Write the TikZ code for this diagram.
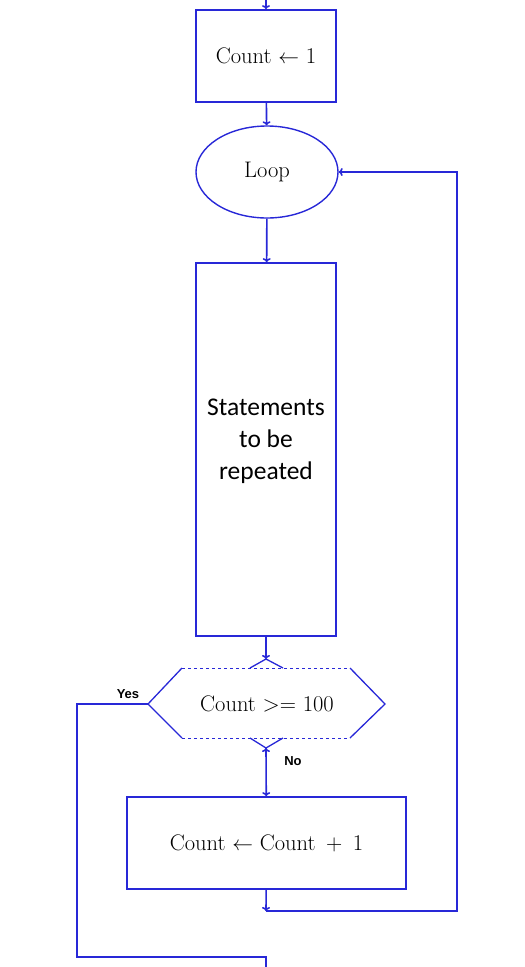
\documentclass[tikz,border=0pt]{standalone}
\usepackage{fontspec}
\newfontfamily\bodyfont{Carlito}
\newfontfamily\tagfont{Liberation Sans}
\usetikzlibrary{arrows.meta, positioning, shapes.geometric}
\definecolor{flowblue}{RGB}{40,40,215}

\begin{document}
\begin{tikzpicture}[
    x = 1pt, y = -1pt,
    punkt/.style = {rectangle, draw=flowblue, line width=1.7pt, inner sep=2pt},
    pil/.style = {flowblue, line width=1.6pt, -{To[length=4pt,width=8pt]}},
    lijn/.style = {flowblue, line width=1.6pt},
    tag/.style = {font=\tagfont\bfseries\fontsize{13}{15}\selectfont, inner sep=1pt},
    font=\fontsize{22.5}{26}\selectfont
    ]
  \useasboundingbox (0,0) rectangle (525,967);

  \coordinate (start) at (266,0);
  \node[punkt, minimum width=140pt, minimum height=92pt] (init) at (266,56) {Count $\leftarrow$ 1} ;
  \node[ellipse, draw=flowblue, line width=1.4pt, minimum width=142pt, minimum height=92pt] (loop) at (267,172) {Loop} ;
  \node[punkt, minimum width=140pt, minimum height=373pt] (body) at (266,449.5) {} ;
  \node[align=center, font=\bodyfont\fontsize{25.5}{32}\selectfont] (bodytext) at (266,441) {Statements\\to be\\repeated} ;

  % test
  \node[inner sep=0pt] (test) at (267,704) {Count >= 100} ;
  \coordinate (hl) at (148,704);
  \coordinate (htl) at (182,668);
  \coordinate (htr) at (350,668);
  \coordinate (hr) at (385,704);
  \coordinate (hbr) at (350,738);
  \coordinate (hbl) at (182,738);
  \coordinate (ctop) at (266,659);
  \coordinate (cbot) at (266,748);
  \draw[lijn, line width=1.3pt] (htl) -- (hl) -- (hbl) (htr) -- (hr) -- (hbr)
    (250,668) -- (ctop) -- (283,668) (250,738) -- (cbot) -- (283,738);
  \draw[flowblue, line width=1pt, dashed] (htl) -- (htr) (hbl) -- (hbr);

  \node[tag] (yes) at (128,694) {Yes} ;
  \node[tag] (no) at (293,761) {No} ;

  \node[punkt, minimum width=279pt, minimum height=92pt] (inc) at (266.5,843) {Count $\leftarrow$ Count \,+\, 1} ;
  \coordinate (join) at (266,911);
  \coordinate (exit) at (266,967);

  \draw[pil]
  (start) edge (init)
  (init) edge (loop)
  (loop) edge (body)
  (body) edge (ctop)
  (cbot) edge (inc)
  (inc) edge (join);

  \draw[pil] (join) -- ++(191,0) |- (loop.east);
  \draw[lijn] (hl) -- ++(-71,0) |- ([yshift=10pt]exit) -- (exit);
\end{tikzpicture}
\end{document}
